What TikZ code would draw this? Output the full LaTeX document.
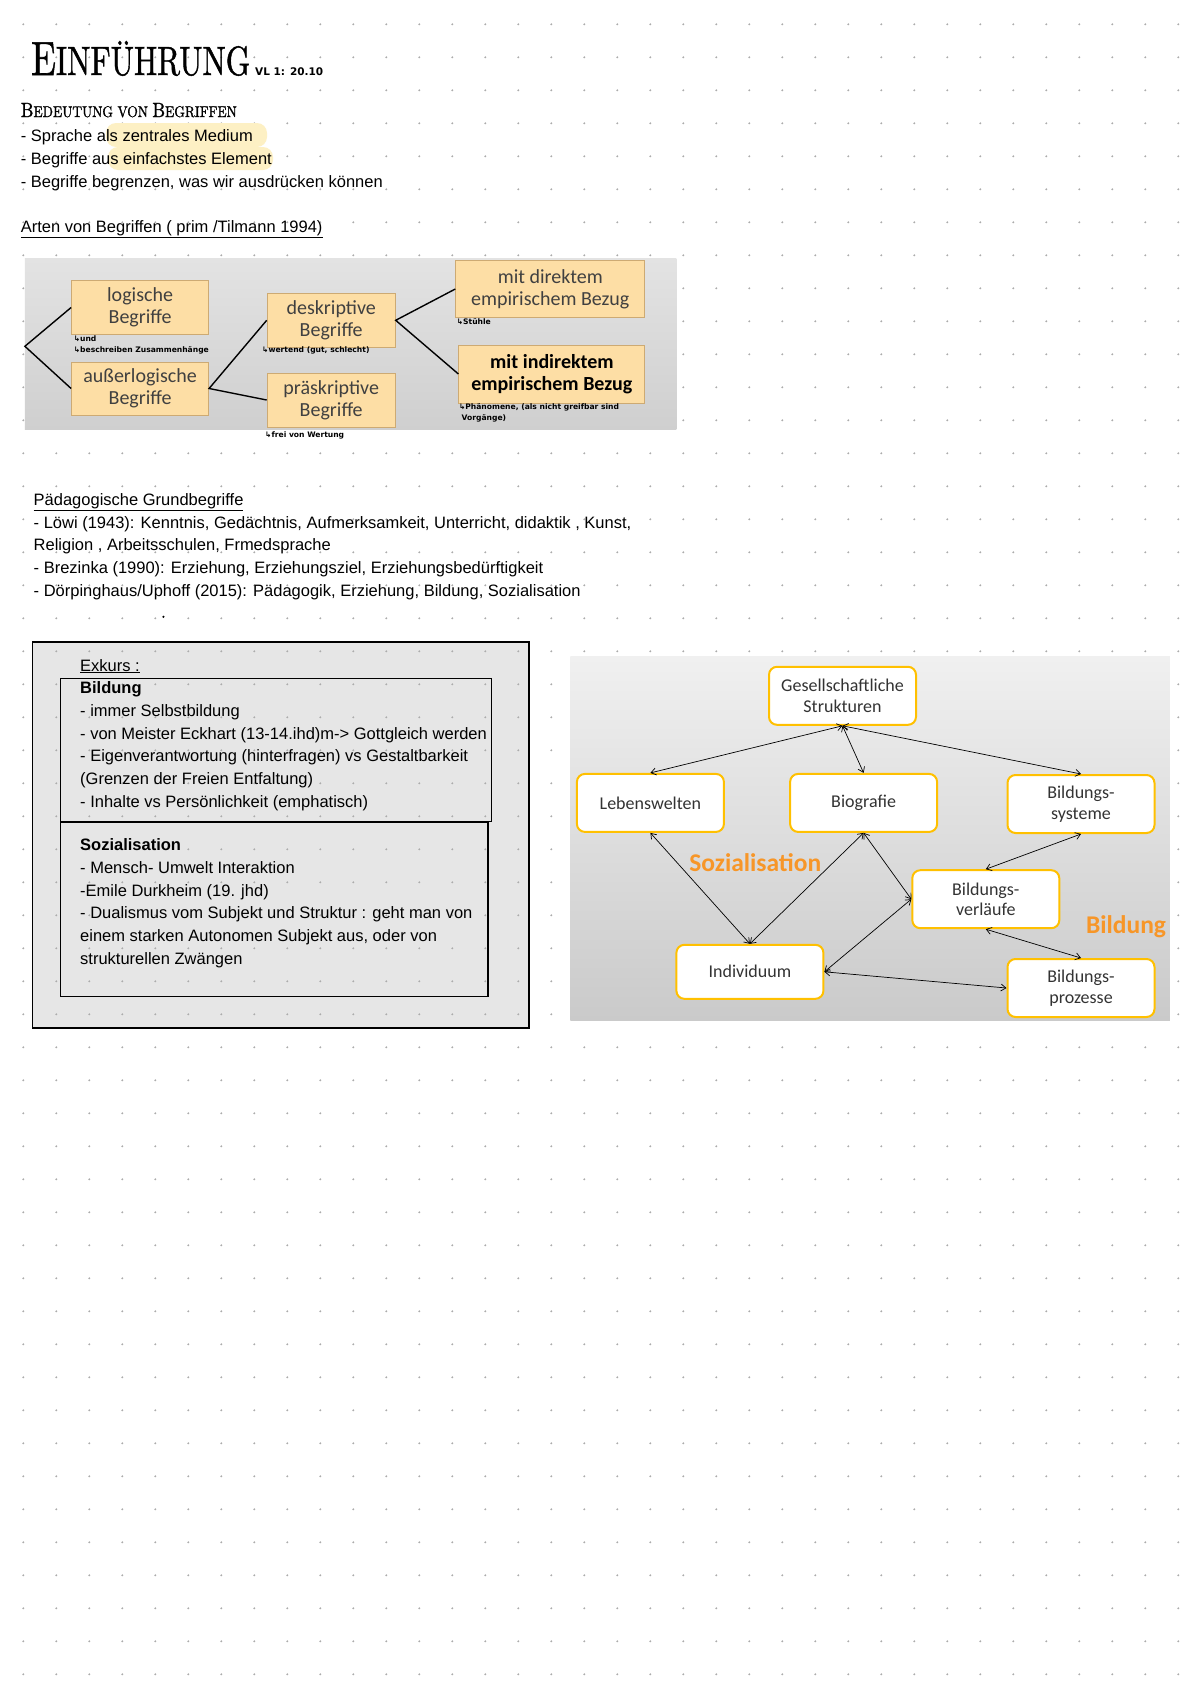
\documentclass[tikz,border=0pt]{standalone}
\usepackage{fontspec}
\usepackage{graphicx}
\usepackage{xcolor}
\usepackage{tikz}
\usetikzlibrary{arrows.meta, positioning}

\newfontfamily\bodyfont{Liberation Sans}
\newfontfamily\slidefont{Carlito}
\newfontfamily\handfont{DejaVu Sans}
\newfontfamily\titlefont{lmroman10-regular.otf}[FakeBold=1.2]

\definecolor{dotgray}{RGB}{172,172,172}
\definecolor{peach}{RGB}{253,222,165}
\definecolor{peachline}{RGB}{205,170,115}
\definecolor{hilite}{RGB}{253,240,196}
\definecolor{boxgray}{RGB}{230,230,230}
\definecolor{gold}{RGB}{255,192,0}
\definecolor{orangetxt}{RGB}{247,150,40}
\definecolor{slidetext}{RGB}{64,64,64}

\tikzset{
  txt/.style={anchor=base west, inner sep=0pt, align=left, font=\bodyfont\fontsize{16.5}{22.7}\selectfont},
  hand/.style={anchor=base west, inner sep=0pt, align=left, font=\handfont\bfseries\fontsize{7.6}{11}\selectfont},
  kbox/.style={draw=peachline, fill=peach, line width=1pt, inner sep=2pt, align=center, text=slidetext, font=\slidefont\fontsize{20}{21.6}\selectfont},
  sbox/.style={draw=gold, fill=white, line width=2pt, rounded corners=8pt, minimum width=147pt, minimum height=58pt, align=center, text=black!80, font=\slidefont\fontsize{18}{20.6}\selectfont},
  kline/.style={line width=1.4pt, black},
  dlink/.style={{Straight Barb[length=5pt,width=7pt]}-{Straight Barb[length=5pt,width=7pt]}, line width=0.7pt},
  tag/.style={text=orangetxt, font=\slidefont\bfseries\fontsize{25.5}{26}\selectfont}
}

\begin{document}
\begin{tikzpicture}[x=1pt, y=-1pt]
    \useasboundingbox (0,0) rectangle (1200,1697);
    \fill[white] (0,0) rectangle (1200,1697);
    \fill[boxgray] (32.5,641.7) rectangle (529.1,1028);

    % dot grid
    \foreach \i in {0,...,35} {
        \foreach \j in {0,...,50} {
            \fill[dotgray] (23.3+33*\i, 24.3+33*\j) circle (1.1pt);
        }
    }

    % heading (multi-line nodes sit on the baseline of their last line)
    \node[anchor=base west, inner sep=0pt] (titel) at (31,75)
        {\resizebox{219pt}{\height}{\titlefont\fontsize{48}{48}\selectfont E\fontsize{41}{41}\selectfont INFÜHRUNG}};
    \node[hand, font=\handfont\bfseries\fontsize{10.5}{10}\selectfont] (vl) at (255,75) {VL 1: 20.10};
    \node[anchor=base west, inner sep=0pt] (bedeutung) at (20.6,117)
        {\resizebox{216pt}{\height}{\titlefont\fontsize{20.5}{20}\selectfont B\fontsize{15.5}{15}\selectfont EDEUTUNG VON \fontsize{20.5}{20}\selectfont B\fontsize{15.5}{15}\selectfont EGRIFFEN}};

    \fill[hilite, rounded corners=10pt] (106,123) rectangle (267,147);
    \fill[hilite, rounded corners=10pt] (108,147) rectangle (273,170);
    \node[txt] (punkte) at (20.6,187.2) {- Sprache als zentrales Medium\\- Begriffe aus einfachstes Element\\- Begriffe begrenzen, was wir ausdrücken können};
    \node[txt] (arten) at (20.6,232.6) {\underline{Arten von Begriffen ( prim /Tilmann 1994)}};

    % Arten von Begriffen
    \shade[top color={rgb,255:red,227;green,227;blue,227}, bottom color={rgb,255:red,207;green,207;blue,207}] (24.9,258.6) rectangle (676.3,429.6);
    \node[kbox, minimum width=137pt, minimum height=54pt] (logisch) at (140.1,307.5) {logische\\Begriffe};
    \node[kbox, minimum width=137pt, minimum height=53pt] (ausser) at (140.1,388.5) {außerlogische\\Begriffe};
    \node[kbox, minimum width=128pt, minimum height=54pt] (deskr) at (331.2,320.3) {deskriptive\\Begriffe};
    \node[kbox, minimum width=128pt, minimum height=54pt] (praeskr) at (331.2,400) {präskriptive\\Begriffe};
    \node[kbox, minimum width=189pt, minimum height=57pt] (direkt) at (550.3,289) {mit direktem\\empirischem Bezug};
    \node[kbox, minimum width=186pt, minimum height=58pt, text=black, font=\slidefont\bfseries\fontsize{20}{21.6}\selectfont] (indirekt) at (551.9,374) {mit indirektem\\empirischem Bezug};
    \coordinate (wurzel) at (24.9,346.3);
    \draw[kline] (logisch.west) -- (wurzel) -- (ausser.west);
    \draw[kline] (deskr.west) -- (ausser.east) -- (praeskr.west);
    \draw[kline] (direkt.west) -- (deskr.east) -- (indirekt.west);

    \node[hand] (nbeschr) at (73.6,352.5) {↳und\\↳beschreiben Zusammenhänge};
    \node[hand] (nwert) at (262,352.5) {↳wertend (gut, schlecht)};
    \node[hand] (nfrei) at (265,437.5) {↳frei von Wertung};
    \node[hand] (nstuhl) at (456.6,324.5) {↳Stühle};
    \node[hand] (nphaen) at (458.8,420.5) {↳Phänomene, (als nicht greifbar sind\\\ Vorgänge)};

    % Grundbegriffe
    \node[txt] (paed) at (33.5,596.2) {\underline{Pädagogische Grundbegriffe}\\- Löwi (1943): Kenntnis, Gedächtnis, Aufmerksamkeit, Unterricht, didaktik , Kunst,\\Religion , Arbeitsschulen, Frmedsprache\\- Brezinka (1990): Erziehung, Erziehungsziel, Erziehungsbedürftigkeit\\- Dörpinghaus/Uphoff (2015): Pädagogik, Erziehung, Bildung, Sozialisation};
    \fill (163.4,616.8) circle (1.2pt);

    % Exkurs
    \draw[line width=1.6pt] (32.5,641.7) rectangle (529.1,1028);
    \draw[line width=1.6pt] (60.6,678.5) rectangle (491.3,821.3);
    \draw[line width=1.6pt] (60.6,822.4) rectangle (488,996.6);
    \node[txt] (exkurs) at (80,671) {\underline{Exkurs :}};
    \node[txt] (bildtext) at (80,807.2) {\textbf{Bildung}\\- immer Selbstbildung\\- von Meister Eckhart (13-14.ihd)m-> Gottgleich werden\\- Eigenverantwortung (hinterfragen) vs Gestaltbarkeit\\(Grenzen der Freien Entfaltung)\\- Inhalte vs Persönlichkeit (emphatisch)};
    \node[txt] (soztext) at (80,964.2) {\textbf{Sozialisation}\\- Mensch- Umwelt Interaktion\\-Emile Durkheim (19. jhd)\\- Dualismus vom Subjekt und Struktur : geht man von\\einem starken Autonomen Subjekt aus, oder von\\strukturellen Zwängen};

    % Sozialisation und Bildung
    \shade[top color={rgb,255:red,240;green,240;blue,240}, bottom color={rgb,255:red,202;green,202;blue,202}] (570.3,656.8) rectangle (1169.8,1020.4);
    \node[sbox] (ges) at (842.5,695.8) {Gesellschaftliche\\Strukturen};
    \node[sbox] (leb) at (650.4,802.9) {Lebenswelten};
    \node[sbox] (bio) at (863.6,802.9) {Biografie};
    \node[sbox] (bsys) at (1081,804) {Bildungs-\\systeme};
    \node[sbox] (bverl) at (985.8,899.2) {Bildungs-\\verläufe};
    \node[sbox, minimum height=54pt] (ind) at (749.9,971.8) {Individuum};
    \node[sbox] (bproz) at (1081,988) {Bildungs-\\prozesse};
    \node[tag] (lsoz) at (755.3,862.4) {Sozialisation};
    \node[tag] (lbild) at (1126,926.3) {Bildung};

    \draw[dlink] (ges.south) -- (leb.north);
    \draw[dlink] (ges.south) -- (bio.north);
    \draw[dlink] (ges.south) -- (bsys.north);
    \draw[dlink] (leb.south) -- (ind.north);
    \draw[dlink] (bio.south) -- (ind.north);
    \draw[dlink] (bio.south) -- (bverl.west);
    \draw[dlink] (bsys.south) -- (bverl.north);
    \draw[dlink] (ind.east) -- (bverl.west);
    \draw[dlink] (bverl.south) -- (bproz.north);
    \draw[dlink] (ind.east) -- (bproz.west);
\end{tikzpicture}
\end{document}
